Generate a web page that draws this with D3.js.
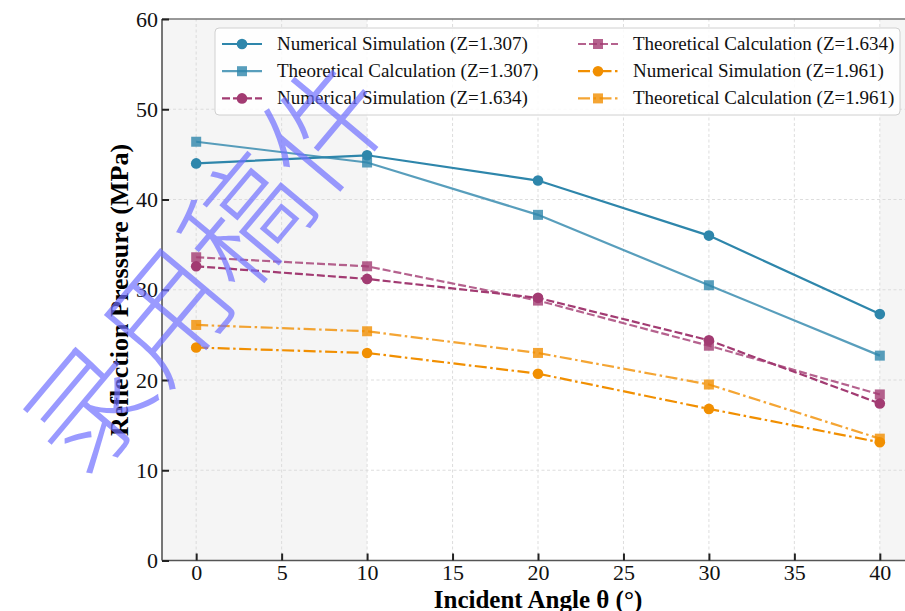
<!DOCTYPE html>
<html>
<head>
<meta charset="utf-8">
<script src="https://cdn.jsdelivr.net/npm/d3@7"></script>
<style>
  body { margin: 0; background: #fff; }
  svg { display: block; font-family: "Liberation Serif", "Times New Roman", serif; }
</style>
</head>
<body>
<div id="chart"></div>
<script>
// incident angles and reflection pressures (MPa)
var angles = [0, 10, 20, 30, 40];
var num1307 = [44.0, 44.9, 42.1, 36.0, 27.3];
var theo1307 = [46.4, 44.1, 38.3, 30.5, 22.7];
var num1634 = [32.6, 31.2, 29.1, 24.4, 17.4];
var theo1634 = [33.6, 32.6, 28.8, 23.8, 18.4];
var num1961 = [23.6, 23.0, 20.7, 16.8, 13.1];
var theo1961 = [26.1, 25.4, 23.0, 19.5, 13.5];
var xTicks = [0, 5, 10, 15, 20, 25, 30, 35, 40];
var yTicks = [0, 10, 20, 30, 40, 50, 60];
var shaded = [[-2, 10], [40, 42]];

var series = [
  {name: "Numerical Simulation (Z=1.307)", vals: num1307, color: "#2E86AB", op: 1, mark: "circle", dash: null},
  {name: "Theoretical Calculation (Z=1.307)", vals: theo1307, color: "#2E86AB", op: 0.8, mark: "square", dash: null},
  {name: "Numerical Simulation (Z=1.634)", vals: num1634, color: "#A23B72", op: 1, mark: "circle", dash: "8,3"},
  {name: "Theoretical Calculation (Z=1.634)", vals: theo1634, color: "#A23B72", op: 0.8, mark: "square", dash: "8,3"},
  {name: "Numerical Simulation (Z=1.961)", vals: num1961, color: "#F18F01", op: 1, mark: "circle", dash: "12,3.5,2.5,3.5"},
  {name: "Theoretical Calculation (Z=1.961)", vals: theo1961, color: "#F18F01", op: 0.8, mark: "square", dash: "12,3.5,2.5,3.5"}
];

var W = 905, H = 611;
var svg = d3.select("#chart").append("svg")
  .attr("width", W).attr("height", H);

var x = d3.scaleLinear().domain([-2, 42]).range([162, 914]);
var y = d3.scaleLinear().domain([0, 60]).range([560.5, 19]);

// shaded bands
svg.selectAll(".band").data(shaded).enter().append("rect")
  .attr("x", function(d) { return x(d[0]); })
  .attr("width", function(d) { return x(d[1]) - x(d[0]); })
  .attr("y", y(60)).attr("height", y(0) - y(60))
  .attr("fill", "#f5f5f5");

// grid
svg.append("g").selectAll("line").data(xTicks).enter().append("line")
  .attr("x1", function(d) { return x(d); }).attr("x2", function(d) { return x(d); })
  .attr("y1", y(0)).attr("y2", y(60))
  .attr("stroke", "#d9d9d9").attr("stroke-width", 0.9).attr("stroke-dasharray", "3,2.5");
svg.append("g").selectAll("line").data(yTicks.slice(1, -1)).enter().append("line")
  .attr("y1", function(d) { return y(d); }).attr("y2", function(d) { return y(d); })
  .attr("x1", x(-2)).attr("x2", x(42))
  .attr("stroke", "#d9d9d9").attr("stroke-width", 0.9).attr("stroke-dasharray", "3,2.5");

// lines + markers
var line = d3.line()
  .x(function(d, i) { return x(angles[i]); })
  .y(function(d) { return y(d); });

function marker(g, s, cx, cy) {
  if (s.mark == "circle") {
    g.append("circle").attr("cx", cx).attr("cy", cy).attr("r", 5.3)
      .attr("fill", s.color).attr("fill-opacity", s.op);
  } else {
    g.append("rect").attr("x", cx - 5).attr("y", cy - 5).attr("width", 10).attr("height", 10)
      .attr("fill", s.color).attr("fill-opacity", s.op);
  }
}

series.forEach(function(s) {
  var g = svg.append("g");
  g.append("path").attr("d", line(s.vals))
    .attr("fill", "none").attr("stroke", s.color).attr("stroke-opacity", s.op)
    .attr("stroke-width", 2.2)
    .attr("stroke-dasharray", s.dash);
  s.vals.forEach(function(v, i) { marker(g, s, x(angles[i]), y(v)); });
});

// spines
svg.append("line").attr("x1", x(-2)).attr("x2", x(-2)).attr("y1", y(0)).attr("y2", y(60))
  .attr("stroke", "#555").attr("stroke-width", 1.6);
svg.append("line").attr("x1", x(-2)).attr("x2", x(42)).attr("y1", y(0)).attr("y2", y(0))
  .attr("stroke", "#555").attr("stroke-width", 1.6);
svg.append("line").attr("x1", x(-2)).attr("x2", x(42)).attr("y1", y(60)).attr("y2", y(60))
  .attr("stroke", "#777").attr("stroke-width", 1.6);

// axes (ticks pointing inside)
var xAxis = svg.append("g").attr("transform", "translate(0," + y(0) + ")")
  .call(d3.axisBottom(x).tickValues(xTicks).tickSizeInner(-7).tickSizeOuter(0).tickPadding(4));
var yAxis = svg.append("g").attr("transform", "translate(" + x(-2) + ",0)")
  .call(d3.axisLeft(y).tickValues(yTicks).tickSizeInner(-7).tickSizeOuter(0).tickPadding(4));
[xAxis, yAxis].forEach(function(a) {
  a.attr("font-family", "Liberation Serif").attr("font-size", 22);
  a.select(".domain").remove();
  a.selectAll(".tick line").attr("stroke", "#222").attr("stroke-width", 2);
  a.selectAll(".tick text").attr("fill", "#111");
});

// axis titles
svg.append("text").attr("x", 538).attr("y", 608)
  .attr("text-anchor", "middle").style("font-size", "25px").attr("font-weight", "bold")
  .text("Incident Angle θ (°)");
svg.append("text").attr("transform", "translate(128,290) rotate(-90)")
  .attr("text-anchor", "middle").style("font-size", "26px").attr("font-weight", "bold")
  .text("Reflection Pressure (MPa)");

// legend
var lg = svg.append("g");
lg.append("rect").attr("x", 215).attr("y", 28).attr("width", 685).attr("height", 87)
  .attr("rx", 4).attr("fill", "#fff").attr("fill-opacity", 0.85)
  .attr("stroke", "#d0d0d0").attr("stroke-width", 1);
series.forEach(function(s, i) {
  var col = Math.floor(i / 3), row = i % 3;
  var lx = col == 0 ? 222 : 578;
  var ly = 44 + row * 27.2;
  var g = lg.append("g");
  g.append("line").attr("x1", lx).attr("x2", lx + 40).attr("y1", ly).attr("y2", ly)
    .attr("stroke", s.color).attr("stroke-opacity", s.op).attr("stroke-width", 2.2)
    .attr("stroke-dasharray", s.dash);
  marker(g, s, lx + 20, ly);
  g.append("text").attr("x", lx + 55).attr("y", ly + 6)
    .style("font-size", "19px").attr("fill", "#111").text(s.name);
});

// watermark
svg.append("text")
  .attr("transform", "translate(200,262) rotate(-50)")
  .attr("text-anchor", "middle").attr("dominant-baseline", "central")
  .style("font-family", "'Noto Sans CJK SC'").attr("font-weight", 300)
  .style("font-size", "122px").attr("fill", "#6f6fff").attr("fill-opacity", 0.7)
  .text("录用稿件");
</script>
</body>
</html>
